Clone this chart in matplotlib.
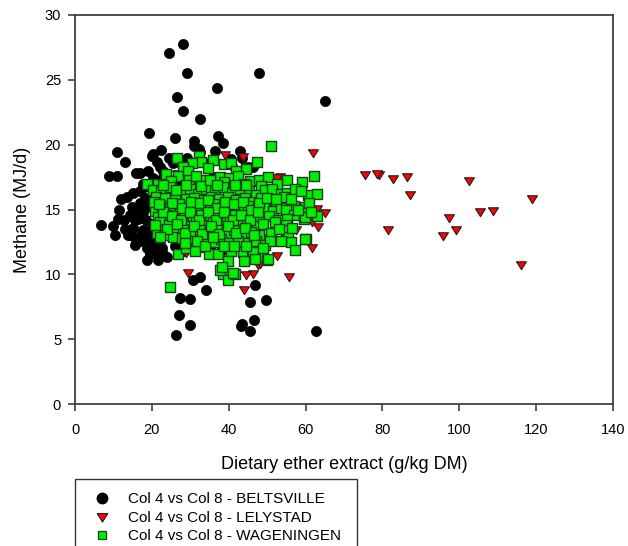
import numpy as np
import matplotlib
matplotlib.use("Agg")
import matplotlib.pyplot as plt
from matplotlib.lines import Line2D

plt.rcParams['font.family'] = ['Liberation Sans', 'DejaVu Sans']

# Dietary ether extract (g/kg DM), methane (MJ/d) per site
BELTSVILLE = [
    (24.5, 27.1), (28.1, 27.8), (29.1, 25.5), (36.9, 24.4), (47.9, 25.5), (26.5, 23.7),
    (28.0, 22.6), (32.6, 22.0), (19.3, 20.9), (26.0, 20.5), (30.9, 20.3), (31.0, 19.9),
    (32.3, 19.7), (37.1, 20.7), (38.4, 20.1), (42.9, 19.5), (11.0, 19.4), (13.1, 18.7),
    (8.8, 17.6), (10.9, 17.6), (16.0, 17.8), (20.4, 19.3), (22.4, 19.6), (20.0, 19.1),
    (36.4, 19.5), (46.4, 18.3), (65.1, 23.4), (62.7, 5.6), (32.5, 19.4), (29.1, 19.0),
    (27.8, 18.6), (43.4, 19.0), (45.0, 18.3), (21.3, 18.7), (22.1, 18.3), (19.0, 18.0),
    (20.3, 17.4), (17.7, 17.0), (22.1, 17.3), (23.9, 17.5), (22.6, 16.7), (21.3, 16.4),
    (19.5, 16.7), (15.1, 16.3), (16.9, 16.4), (18.2, 15.9), (16.9, 15.5), (16.1, 15.0),
    (14.8, 15.2), (15.6, 14.2), (14.3, 14.6), (11.2, 14.3), (6.8, 13.8), (9.9, 13.7),
    (10.4, 13.0), (14.3, 13.0), (15.6, 12.8), (17.4, 13.2), (19.5, 13.4), (18.7, 12.4),
    (20.3, 12.0), (22.1, 12.6), (22.9, 11.6), (15.6, 12.3), (17.4, 12.6), (18.7, 11.1),
    (18.7, 12.0), (19.5, 11.6), (21.6, 11.1), (22.1, 11.6), (20.8, 12.4), (17.7, 13.4),
    (19.5, 13.0), (22.1, 12.9), (22.6, 12.0), (23.9, 11.3), (20.3, 13.9), (15.1, 13.6),
    (13.8, 13.0), (16.4, 14.3), (12.0, 15.8), (13.5, 16.0), (11.5, 15.0), (12.8, 14.2),
    (13.0, 13.5), (17.8, 14.8), (19.0, 15.3), (20.5, 15.0), (18.5, 14.2), (21.5, 14.5),
    (20.0, 16.0), (18.0, 16.7), (17.0, 17.8), (23.0, 18.0), (24.5, 17.0), (25.0, 15.5),
    (24.0, 14.5), (24.5, 13.0), (26.0, 12.2), (28.0, 11.8), (30.0, 12.2), (32.0, 13.0),
    (35.0, 12.0), (38.0, 11.8), (25.5, 18.6), (27.0, 17.0), (30.0, 17.0), (33.0, 16.0),
    (36.0, 17.5), (40.0, 16.0), (42.0, 17.0), (39.0, 14.5), (29.0, 15.0), (27.0, 14.0),
    (34.0, 14.5), (43.0, 13.5), (24.5, 19.0), (34.0, 18.6), (40.5, 18.9),
    (26.3, 5.3), (27.1, 6.9), (27.3, 8.2), (29.9, 8.1), (29.9, 6.1), (30.7, 9.6),
    (32.5, 9.8), (34.2, 8.8), (43.5, 6.2), (43.2, 6.0), (45.6, 7.9), (45.5, 5.6),
    (46.6, 6.5), (46.9, 9.2), (49.7, 8.0),
]

LELYSTAD = [
    (62.0, 19.4), (75.5, 17.7), (79.1, 17.7), (78.6, 17.8), (82.8, 17.4), (86.3, 17.6),
    (87.2, 16.2), (81.4, 13.5), (102.5, 17.3), (97.3, 14.4), (99.1, 13.5), (95.7, 13.0),
    (105.4, 14.9), (108.8, 15.0), (118.9, 15.9), (116.1, 10.8), (65.0, 14.8), (63.3, 13.7),
    (61.6, 12.1), (62.9, 15.1), (61.7, 14.1), (55.7, 9.9), (53.3, 17.6), (39.0, 19.3),
    (43.8, 19.1), (52.5, 17.5), (52.6, 11.5), (47.6, 10.8), (46.3, 10.1), (44.5, 10.0),
    (44.0, 8.9), (29.4, 10.2), (28.9, 11.7), (40.9, 12.6), (39.0, 12.2), (47.6, 12.0),
    (48.9, 12.9), (47.6, 15.9), (53.3, 14.2), (26.5, 17.8), (27.8, 18.1), (40.9, 18.3),
    (43.7, 12.3), (49.7, 12.9), (53.9, 14.0), (48.1, 10.9), (34.0, 17.0), (36.5, 15.5),
    (30.5, 14.0), (25.5, 16.0), (44.0, 16.5), (57.5, 13.5), (31.0, 16.5), (22.5, 15.5),
    (42.0, 14.5), (38.0, 13.5), (33.5, 12.8), (46.0, 14.0), (50.5, 16.5),
]

WAGENINGEN = [
    (51.0, 19.9), (26.5, 19.0), (32.3, 19.1), (32.7, 18.7), (36.0, 18.8), (38.9, 18.5),
    (40.6, 18.6), (44.5, 18.1), (47.4, 18.7), (30.5, 18.6), (28.0, 18.3), (34.6, 18.2),
    (42.0, 18.0),
    (23.7, 17.7), (26.8, 17.6), (29.4, 18.0), (29.7, 17.3), (33.3, 17.3), (35.9, 17.0),
    (37.7, 17.5), (40.0, 17.4), (42.4, 17.6), (45.5, 17.2), (47.9, 17.3), (50.2, 17.5),
    (55.2, 17.3), (59.0, 17.1), (62.2, 17.6), (18.8, 17.0), (21.6, 17.0), (31.5, 17.6),
    (25.0, 17.2), (38.8, 17.1), (44.0, 17.0), (48.5, 16.8), (52.5, 17.0),
    (20.2, 16.5), (22.5, 16.4), (24.6, 16.7), (27.8, 16.3), (30.0, 16.6), (32.0, 16.2),
    (34.2, 16.6), (36.5, 16.4), (38.5, 16.7), (40.8, 16.3), (43.0, 16.6), (45.2, 16.4),
    (47.0, 16.1), (49.5, 16.5), (51.3, 16.6), (53.6, 16.2), (55.2, 16.3), (57.3, 16.6),
    (60.7, 16.1), (63.0, 16.2), (58.8, 16.4),
    (21.0, 16.0), (23.5, 15.9), (26.0, 16.0), (28.8, 15.8), (31.0, 15.9), (33.5, 15.7),
    (35.5, 16.0), (37.6, 15.8), (39.8, 16.0), (42.0, 15.7), (44.3, 15.9), (46.4, 15.6),
    (48.3, 15.9), (50.6, 15.7), (52.4, 15.5), (54.4, 16.0), (57.0, 15.3), (59.8, 15.2),
    (61.0, 15.5),
    (20.8, 14.9), (22.7, 15.3), (24.8, 15.1), (27.0, 15.4), (29.5, 15.0), (31.8, 15.3),
    (34.0, 15.1), (36.2, 15.4), (38.3, 15.0), (40.5, 15.3), (42.8, 15.0), (45.0, 15.3),
    (47.2, 15.0), (49.3, 15.2), (51.5, 14.9), (53.5, 15.1), (54.9, 15.0), (57.0, 14.6),
    (59.6, 14.3), (62.9, 14.5), (59.8, 14.4),
    (21.5, 14.4), (23.9, 14.6), (26.1, 14.3), (28.3, 14.7), (30.6, 14.4), (32.9, 14.6),
    (35.1, 14.3), (37.3, 14.6), (39.5, 14.3), (41.7, 14.6), (43.9, 14.4), (46.1, 14.6),
    (48.2, 14.3), (50.4, 14.5), (52.8, 14.2), (55.2, 14.3),
    (22.1, 14.0), (24.5, 13.8), (27.0, 14.0), (29.2, 13.7), (31.5, 14.0), (33.7, 13.8),
    (36.0, 14.0), (38.1, 13.7), (40.3, 14.0), (42.6, 13.8), (44.8, 14.0), (47.0, 13.7),
    (49.0, 13.9), (52.0, 14.0), (54.9, 13.8),
    (21.3, 13.2), (23.4, 13.4), (25.8, 13.3), (28.0, 13.5), (30.3, 13.2), (32.5, 13.4),
    (34.8, 13.2), (37.0, 13.5), (39.2, 13.2), (41.4, 13.4), (43.7, 12.9), (45.9, 13.3),
    (48.0, 13.0), (51.0, 13.2), (54.9, 13.4), (55.4, 12.9), (60.1, 12.7), (59.8, 12.7),
    (23.4, 13.0), (25.5, 12.9), (27.8, 12.8), (30.0, 12.6), (32.3, 12.1), (34.2, 12.7),
    (36.4, 12.5), (38.0, 12.7), (40.2, 12.4), (42.3, 12.6), (45.0, 12.4), (47.2, 12.6),
    (49.5, 12.3), (56.2, 12.5), (57.2, 11.9),
    (26.8, 11.6), (29.0, 12.0), (31.2, 11.8), (34.9, 11.6), (37.2, 11.6), (40.6, 11.8),
    (43.7, 11.7), (46.1, 11.5), (48.7, 11.4), (50.0, 11.1), (46.3, 11.7), (39.8, 11.0),
    (44.0, 11.0), (46.9, 11.2), (50.3, 11.2),
    (38.5, 10.0), (37.7, 10.3), (39.8, 9.6), (41.6, 10.0), (41.2, 10.1), (38.3, 10.6),
    (24.7, 9.0),
    (23.0, 16.9), (26.3, 16.5), (29.0, 16.9), (32.8, 16.8), (35.0, 17.3), (37.0, 16.9),
    (41.6, 16.9), (44.6, 16.9), (25.3, 15.5), (27.9, 15.1), (30.2, 15.6), (32.6, 15.5),
    (34.7, 15.7), (36.9, 15.1), (39.0, 15.6), (41.3, 15.4), (43.6, 15.6), (45.7, 15.0),
    (48.0, 15.5), (50.0, 15.9), (22.8, 14.8), (25.2, 14.5), (27.6, 14.2), (29.9, 14.8),
    (32.2, 14.2), (34.5, 14.8), (36.7, 14.2), (38.9, 14.8), (41.0, 14.2), (43.3, 14.6),
    (45.5, 14.2), (47.6, 14.8), (24.0, 13.5), (26.5, 13.9), (28.7, 13.2), (31.0, 13.7),
    (33.1, 13.1), (35.4, 13.7), (37.6, 13.1), (39.8, 13.7), (42.0, 13.2), (44.2, 13.6),
    (46.5, 13.0), (28.5, 12.4), (31.7, 12.6), (33.9, 12.2), (35.8, 12.9), (38.7, 12.2),
    (41.5, 12.2), (44.5, 12.2), (20.5, 15.6), (21.8, 15.4), (20.9, 13.8), (22.0, 12.9),
    (53.0, 13.5), (53.5, 12.6), (52.2, 15.8), (56.3, 15.8), (58.0, 15.0), (61.5, 14.8),
    (56.5, 13.6), (50.8, 12.6), (48.8, 12.0),
]

LABELS = [
    "Col 4 vs Col 8 - BELTSVILLE",
    "Col 4 vs Col 8 - LELYSTAD",
    "Col 4 vs Col 8 - WAGENINGEN",
]
X_TICKS = [0, 20, 40, 60, 80, 100, 120, 140]
Y_TICKS = [0, 5, 10, 15, 20, 25, 30]

GREEN = '#00f000'
GREEN_EDGE = '#1b3d1b'
RED = '#ff0000'
RED_EDGE = '#202020'
# downward triangle, a little wider than tall
TRI_DOWN = [(-1.0, 0.55), (1.0, 0.55), (0.0, -1.05), (-1.0, 0.55)]

W, H = 628, 546
fig = plt.figure(figsize=(W / 100, H / 100), dpi=100)
ax = fig.add_axes([75 / W, 1 - 404 / H, 538 / W, 389 / H])

bx, by = np.array(BELTSVILLE).T
lx, ly = np.array(LELYSTAD).T
wx, wy = np.array(WAGENINGEN).T

ax.scatter(bx, by, s=54, marker='o', facecolor='black', edgecolor='black',
           linewidths=0.5, zorder=3)
ax.scatter(lx, ly, s=56, marker=TRI_DOWN, facecolor=RED, edgecolor=RED_EDGE,
           linewidths=0.8, zorder=4)
ax.scatter(wx, wy, s=42, marker='s', facecolor=GREEN, edgecolor=GREEN_EDGE,
           linewidths=1.0, zorder=5)

ax.set_xlim(0, 140)
ax.set_ylim(0, 30)
ax.set_xticks(X_TICKS)
ax.set_yticks(Y_TICKS)
ax.tick_params(direction='out', length=5, width=1.2, color='#404040',
               labelsize=10.5)
ax.tick_params(axis='x', pad=9)
ax.tick_params(axis='y', pad=5)
for sp in ax.spines.values():
    sp.set_color('#404040')
    sp.set_linewidth(1.3)

ax.set_xlabel("Dietary ether extract (g/kg DM)", fontsize=13)
ax.set_ylabel("Methane (MJ/d)", fontsize=13)
ax.xaxis.set_label_coords(0.5, (404 - 456) / 389)
ax.yaxis.set_label_coords((31 - 75) / 538, 0.5)

handles = [
    Line2D([], [], ls='', marker='o', ms=7.5, mfc='black', mec='black'),
    Line2D([], [], ls='', marker=TRI_DOWN, ms=8, mfc=RED, mec=RED_EDGE, mew=0.8),
    Line2D([], [], ls='', marker='s', ms=6.2, mfc=GREEN, mec=GREEN_EDGE, mew=0.9),
]
leg = fig.legend(handles, LABELS, loc='upper left',
                 bbox_to_anchor=(75 / W, 1 - 479 / H, 282 / W, 0.0),
                 mode='expand', fontsize=11, frameon=True, fancybox=False,
                 edgecolor='black', borderpad=0.85, handlelength=1.8,
                 handletextpad=0.8, labelspacing=0.3, borderaxespad=0)
leg.get_frame().set_linewidth(1.0)

fig.savefig("out.png", dpi=100)
